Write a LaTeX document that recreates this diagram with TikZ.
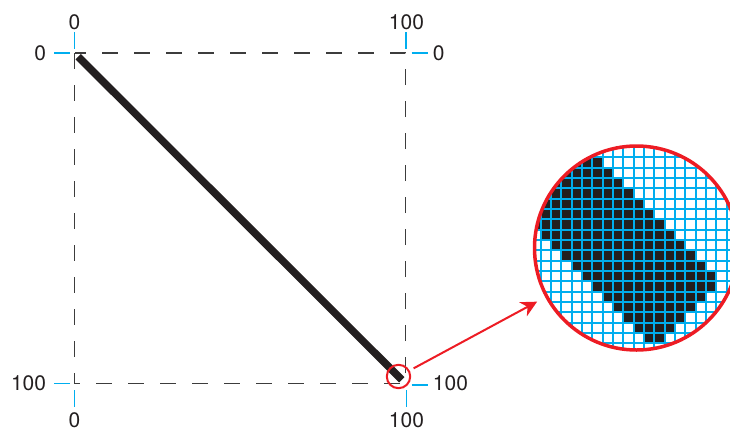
\documentclass[tikz,border=0pt]{standalone}
\usepackage{fontspec}
\setmainfont{TeX Gyre Heros}
\usetikzlibrary{calc,arrows.meta}
\definecolor{pixcyan}{RGB}{0,174,239}
\definecolor{pixblack}{RGB}{35,31,32}
\definecolor{zoomred}{RGB}{237,28,36}
\definecolor{guidegray}{RGB}{60,60,60}

\begin{document}
\begin{tikzpicture}[x=0.5pt,y=-0.5pt,
  guide/.style={guidegray,line width=0.65pt,dash pattern=on 8pt off 8pt},
  tick/.style={pixcyan,line width=0.7pt},
  pixel/.style={pixcyan,line width=0.9pt},
  num/.style={inner sep=0pt,text=pixblack,font=\fontsize{10.5}{12}\selectfont},
  stroke/.style={pixblack,line width=3.75pt},
  spot/.style={circle,draw=zoomred,line width=1pt,minimum size=11.7pt,inner sep=0pt},
  lens/.style={circle,draw=zoomred,line width=1.75pt,minimum size=102pt,inner sep=0pt},
  pointer/.style={zoomred,line width=1pt,-{Stealth[length=8pt,width=8pt]}}]
  \path[use as bounding box,clip] (0,0) rectangle (730,430);
  % corners of the square
  \coordinate (tl) at (74.5,53);
  \coordinate (tr) at (405.5,53);
  \coordinate (bl) at (74.5,383.5);
  \coordinate (br) at (405.5,383.5);
  \draw[guide] (tl) rectangle (br);
  % cyan ticks
  \draw[tick] ($(tl)+(0,-4.5)$) -- ++(0,-16.5);
  \draw[tick] ($(tl)+(-4.5,0)$) -- ++(-16.5,0);
  \draw[tick] ($(tr)+(0.5,-4.5)$) -- ++(0,-16.5);
  \draw[tick] ($(tr)+(6,0)$) -- ++(16.5,0);
  \draw[tick] ($(bl)+(-4.5,0)$) -- ++(-16.5,0);
  \draw[tick] ($(bl)+(0,6.5)$) -- ++(0,16.5);
  \draw[tick] ($(br)+(6,1.5)$) -- ++(16.5,0);
  \draw[tick] ($(br)+(1,6.5)$) -- ++(0,16.5);
  % labels
  \node[num] (tl-top) at ($(tl)+(0,-31)$) {0};
  \node[num,anchor=east] (tl-left) at ($(tl)+(-28,0)$) {0};
  \node[num] (tr-top) at ($(tr)+(1,-31)$) {100};
  \node[num,anchor=west] (tr-right) at ($(tr)+(27,0)$) {0};
  \node[num,anchor=east] (bl-left) at ($(bl)+(-28,0)$) {100};
  \node[num] (bl-bottom) at ($(bl)+(0,37)$) {0};
  \node[num,anchor=west] (br-right) at ($(br)+(27,0)$) {100};
  \node[num] (br-bottom) at ($(br)+(1,37)$) {100};
  % the line
  \draw[stroke,shorten <=2.6pt,shorten >=2.6pt] (tl) -- (br);
  % magnified pixels
  \begin{scope}
    \clip (636.5,248) circle[radius=51pt];
    \fill[white] (520,130) rectangle (750,370);
    \foreach \r in {-10,...,17} {
      \pgfmathtruncatemacro\lo{\r-8}
      \pgfmathtruncatemacro\hi{min(\r+4,27-\r)}
      \fill[pixblack] ({551+10.333*\lo},{157.33+10.333*\r}) rectangle ({551+10.333*(\hi+1)},{157.33+10.333*(\r+1)});
    }
    \foreach \k in {-3,...,20} {
      \draw[pixel] ({551+10.333*\k},130) -- ++(0,240);
      \draw[pixel] (520,{157.33+10.333*\k}) -- ++(230,0);
    }
  \end{scope}
  \node[lens] (mag) at (636.5,248) {};
  \node[spot] (spot) at ($(br)+(-7,-7)$) {};
  \draw[pointer,shorten <=2.25pt,shorten >=4.6pt] (spot) -- (mag);
\end{tikzpicture}
\end{document}
